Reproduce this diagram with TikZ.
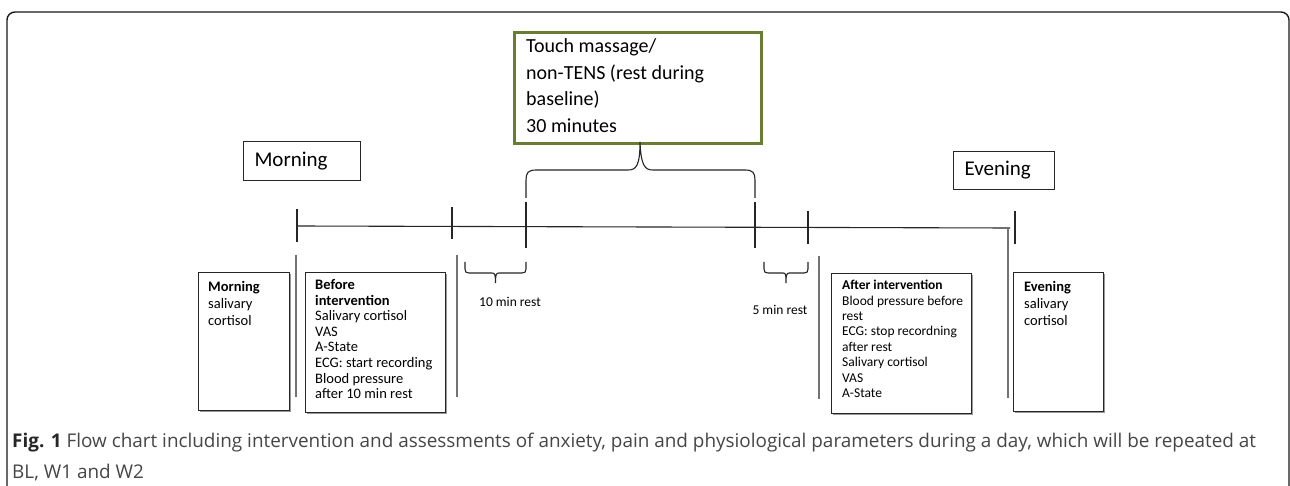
\documentclass[tikz,border=0pt]{standalone}
\usepackage{fontspec}
\setmainfont{Carlito}
\newfontfamily\capfont{Open Sans}
\usetikzlibrary{shadows}
\definecolor{olivebox}{RGB}{104,124,52}
\definecolor{capgray}{RGB}{70,70,70}
\definecolor{vgray}{RGB}{115,115,115}
\newcommand\fsA{\fontsize{14.5}{16.7}\selectfont}
\newcommand\fsB{\fontsize{14.5}{15.6}\selectfont}
\newcommand\fsC{\fontsize{13.5}{15.4}\selectfont}
\begin{document}
\begin{tikzpicture}[x=1pt,y=-1pt,
  frame/.style={line width=1.4pt, black!90, rounded corners=8pt},
  tl/.style={line width=1.1pt, black!85},
  vl/.style={line width=1.6pt, vgray},
  gbox/.style={draw=olivebox, line width=2.6pt, anchor=north west, inner sep=0pt},
  lbox/.style={draw=black!85, line width=1pt, anchor=north west, inner xsep=11pt, inner ysep=0pt, align=left, font=\fontsize{21}{25}\selectfont},
  bbox/.style={draw=black!85, line width=1.1pt, fill=white, anchor=north west, inner sep=0pt,
    drop shadow={shadow xshift=1.8pt, shadow yshift=-1.8pt, fill=black!50, opacity=0.8}},
  btext/.style={anchor=north west, inner sep=0pt, align=left},
  rtext/.style={inner sep=0pt, font=\fontsize{13.5}{15}\selectfont}
]
\useasboundingbox (0,0) rectangle (1290,486);
\fill[white] (0,0) rectangle (1290,486);
% outer frame
\draw[frame] (7,500) -- (7,12) -- (1289,12) -- (1289,500);

% green intervention box
\node[gbox, minimum width=247pt, minimum height=111pt] (gb) at (513,31) {};
\node[btext, font=\fontsize{20}{26.7}\selectfont] (gbt) at ([xshift=13pt, yshift=-7.5pt]gb.north west)
  {Touch massage/\\non-TENS (rest during\\baseline)\\30 minutes};

% top labels
\node[lbox, text width=95pt, minimum height=39pt] (ml) at (243,141) {Morning};
\node[lbox, text width=79pt, minimum height=38pt] (el) at (953,151) {Evening};

% timeline
\coordinate (t1) at (297,226);
\coordinate (tend) at (1010,228);
\draw[tl] (t1) -- (tend);
\draw[tl] (297,209) -- (297,242);
\draw[tl] (452,207) -- (452,239);
\draw[tl] (526,202) -- (526,248);
\draw[tl] (755,202) -- (755,248);
\draw[tl] (808,211) -- (808,244);
\draw[tl] (1015,211) -- (1015,244);

% big brace
\coordinate (tip) at (640,142);
\draw[tl] (526,198) -- (526,180) .. controls (526,173) and (528,170) .. (536,170) -- (628,170)
  .. controls (636,170) and (640,166) .. (tip)
  .. controls (641,166) and (645,170) .. (653,170) -- (745,170)
  .. controls (753,170) and (755,173) .. (755,180) -- (755,198);

% small braces
\draw[tl] (465,262) -- (465,269) .. controls (465,272) and (466,273) .. (469,273) -- (492,273)
  .. controls (495,273) and (495.5,275) .. (495.5,283)
  .. controls (495.5,275) and (496,273) .. (499,273) -- (522,273)
  .. controls (525,273) and (526,272) .. (526,269) -- (526,262);
\draw[tl] (764,262) -- (764,269) .. controls (764,272) and (765,273) .. (768,273) -- (783,273)
  .. controls (786,273) and (786,275) .. (786,283)
  .. controls (786,275) and (786.5,273) .. (789.5,273) -- (804,273)
  .. controls (807,273) and (808,272) .. (808,269) -- (808,262);
\node[rtext] (r10) at (510,302) {10 min rest};
\node[rtext] (r5) at (780,310) {5 min rest};

% grey vertical separators
\draw[vl] (296,255) -- (296,397);
\draw[vl] (457,255) -- (457,397);
\draw[vl] (819,256) -- (819,399);
\draw[vl] (1008,229) -- (1008,398);

% bottom boxes
\node[bbox, minimum width=91pt, minimum height=138pt] (mb) at (198,272) {};
\node[btext, font=\fsA] (mbt) at ([xshift=10pt, yshift=-9.5pt]mb.north west)
  {\textbf{Morning}\\salivary\\cortisol};
\node[bbox, minimum width=140pt, minimum height=140pt] (bb) at (305,272) {};
\node[btext, font=\fsB] (bbt) at ([xshift=10pt, yshift=-7.3pt]bb.north west)
  {\textbf{Before}\\\textbf{intervention}\\Salivary cortisol\\VAS\\A-State\\ECG: start recording\\Blood pressure\\after 10 min rest};
\node[bbox, minimum width=140pt, minimum height=140pt] (ab) at (831,273) {};
\node[btext, font=\fsC] (abt) at ([xshift=11pt, yshift=-7pt]ab.north west)
  {\textbf{After intervention}\\Blood pressure before\\rest\\ECG: stop recordning\\after rest\\Salivary cortisol\\VAS\\A-State};
\node[bbox, minimum width=90pt, minimum height=139pt] (eb) at (1013,272) {};
\node[btext, font=\fsA] (ebt) at ([xshift=11pt, yshift=-9.5pt]eb.north west)
  {\textbf{Evening}\\salivary\\cortisol};

% caption
\node[btext, font=\capfont\fontsize{18.9}{31.7}\selectfont, text=capgray] (cap) at (12,432.5)
  {{\color{black!85}\textbf{Fig. 1}} Flow chart including intervention and assessments of anxiety, pain and physiological parameters during a day, which will be repeated at\\BL, W1 and W2};
\end{tikzpicture}
\end{document}
